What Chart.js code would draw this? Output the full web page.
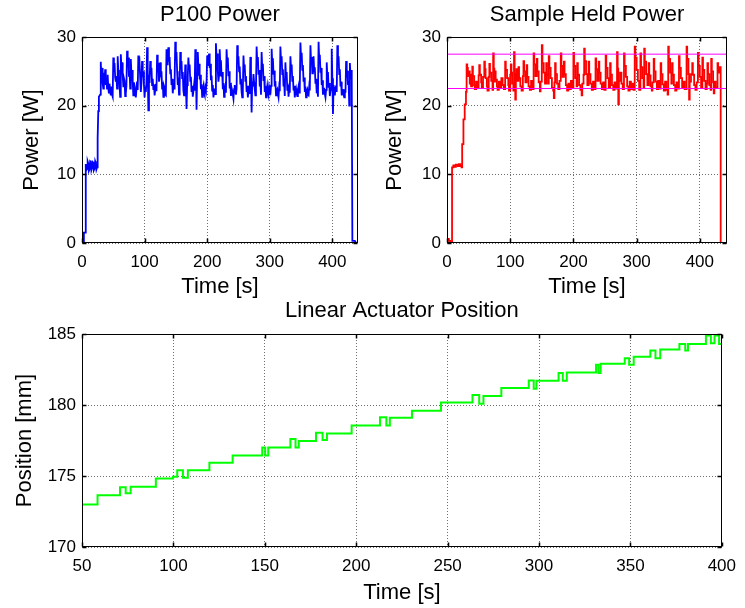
<!DOCTYPE html>
<html><head><meta charset="utf-8">
<script src="https://cdn.jsdelivr.net/npm/chart.js@4.4.1/dist/chart.umd.min.js"></script>
<style>
html,body{margin:0;padding:0;background:#fff;width:745px;height:608px;overflow:hidden;}
canvas{position:absolute;}
</style></head><body>
<canvas id="c1" width="380" height="305" style="left:0px;top:0px"></canvas>
<canvas id="c2" width="380" height="305" style="left:365px;top:0px"></canvas>
<canvas id="c3" width="745" height="318" style="left:0px;top:290px"></canvas>
<script>
// ---- tick labels ----
const powerXTicks = [0, 100, 200, 300, 400];
const powerYTicks = [0, 10, 20, 30];
const posXTicks = [50, 100, 150, 200, 250, 300, 350, 400];
const posYTicks = [170, 175, 180, 185];
// ---- limits of the sample-held band (W) ----
const shLimits = [22.5, 27.5];
// ---- P100 power: [time s, power W] ----
const p100 = [[0,0],[2,0],[3,1.5],[5,1.5],[6,11.5],[7,10.6],[8,10.8],[9,11.9],[10,11.6],[11,10.5],[12,10.7],[13,11.9],[14,11.8],[15,10.6],
[16,10.9],[17,11.8],[18,11.7],[19,10.6],[20,10.8],[21,11.9],[22,11.6],[23,10.7],[24,11],
[25,15.2],[26,19.2],[27,21.3],[29,21.6],[30,26.4],[31,24],[32,25.5],[33,23.2],[34,22.5],[35,24.8],[36,23.4],[37,25.3],[38,23],[39,24.1],[40,22.5],[41,24.5],[42,22.6],[43,21.8],
[44,23.2],[45,22.1],[46,21.5],[47,22.8],[48,21.6],[49,21.3],[50,27],[51,25],[52,26.2],[53,24.1],[54,23.5],[55,24.3],[56,22.5],[57,27.2],[58,25.2],[59,24.3],[60,23],[61,21.3],[62,27.5],
[63,25.5],[64,26.3],[65,24.5],[66,22.8],[67,24],[68,23.6],[69,21.4],[70,21.8],[71,22.9],[72,28],[73,26],[74,27],[75,24.2],[76,25],[77,22.5],[78,26.8],[79,24.5],[80,25.2],[81,23.5],
[82,21.5],[83,23.4],[84,22.8],[85,21.9],[86,21.2],[87,22.4],[88,23.5],[89,22.3],[90,27.3],[91,25.6],[92,26.1],[93,24],[94,22],[95,23.3],[96,26.5],[97,24.2],[98,25],[99,23],[100,21.2],[101,22.8],[102,22],[103,23.4],[104,28.5],
[105,25.5],[106,19.3],[107,24.5],[108,23.3],[109,26.5],[110,24.8],[111,25.5],[112,23],[113,23.9],[114,22.4],[115,23.1],[116,21.5],[117,22.3],[118,23.2],[119,22.1],[120,27.4],[121,25.5],[122,26.2],[123,23.5],
[124,24.2],[125,26.3],[126,24.2],[127,25],[128,22.5],[129,23.4],[130,21.3],[131,22.9],[132,22.6],[133,21.6],[134,21.5],[135,28.2],[136,26],[137,26.8],[138,28.5],[139,26.4],[140,27.1],[141,24.7],[142,25.3],[143,23],
[144,23.9],[145,21.8],[146,22.9],[147,22.5],[148,23.6],[149,29.3],[150,27],[151,27.8],[152,25],[153,23],[154,24.1],[155,21.6],[156,22.7],[157,27.8],[158,25.8],[159,26.5],[160,24],[161,24.9],[162,22.2],[163,21.5],[164,22.8],[165,26],
[166,23.5],[167,19.5],[168,23],[169,24.2],[170,27],[171,25.3],[172,26],[173,23.6],[174,24.2],[175,22],[176,22.9],[177,21.3],[178,22.1],[179,23],[180,22.2],[181,28.2],[182,25.5],[183,19.4],[184,24.5],
[185,27.8],[186,25.5],[187,26.1],[188,23.8],[189,24.5],[190,22.4],[191,23.1],[192,21.3],[193,22.2],[194,22.8],[195,21.8],[196,21.5],[197,22.7],[198,22.3],[199,23.2],[200,27.3],[201,25.8],[202,26.5],[203,27.6],[204,25.5],
[205,26.1],[206,23.7],[207,24.4],[208,22.2],[209,23],[210,21.2],[211,21.9],[212,22.5],[213,21.7],[214,29.1],[215,27],[216,27.6],[217,25],[218,23.5],[219,24.4],[220,28.2],[221,26],[222,26.6],[223,24.2],[224,24.9],[225,22.4],[226,23.3],[227,21.3],
[228,22.2],[229,22.8],[230,21.9],[231,28.2],[232,26.3],[233,27],[234,24.3],[235,25],[236,22.5],[237,23.3],[238,21.4],[239,22.6],[240,22.2],[241,21.6],[242,21],[243,22.4],[244,23],[245,22.1],[246,21.6],[247,22.5],[248,28.8],[249,26.5],[250,27.2],[251,25],
[252,25.7],[253,23.2],[254,23.9],[255,22],[256,21.2],[257,22.3],[258,27.3],[259,25.3],[260,26],[261,23.6],[262,24.3],[263,22],[264,22.9],[265,21.2],[266,22.1],[267,22.5],[268,21.7],[269,27.1],[270,25],[271,19],[272,23.5],
[273,22.8],[274,24.6],[275,23.4],[276,22.4],[277,21.5],[278,22.6],[279,28.6],[280,26.4],[281,27.1],[282,24.5],[283,25.2],[284,22.8],[285,23.5],[286,21.6],[287,27.8],[288,25.4],[289,26.1],[290,23.6],[291,24.3],[292,22],
[293,22.9],[294,21.2],[295,22],[296,22.8],[297,21.9],[298,21.5],[299,22.8],[300,22.4],[301,21.6],[302,22.9],[303,28.3],[304,26.2],[305,26.9],[306,24.5],[307,25.1],[308,22.8],[309,23.6],[310,21.5],[311,22.2],[312,22.4],[313,21.7],[314,21.2],[315,22.6],[316,22.1],[317,28.6],
[318,26.5],[319,27.2],[320,24.6],[321,25.3],[322,22.8],[323,23.5],[324,21.4],[325,26.3],[326,24.2],[327,24.9],[328,22.3],[329,23.1],[330,21.3],[331,22.4],[332,21.9],[333,27.2],[334,25.4],[335,26],[336,23.6],[337,24.3],[338,22.2],
[339,22.9],[340,21.2],[341,22.1],[342,22.5],[343,21.8],[344,21.4],[345,22.3],[346,22.8],[347,21.9],[348,22.6],[349,29.2],[350,27],[351,27.7],[352,25.2],[353,25.9],[354,23.5],[355,24.1],[356,22],[357,22.8],[358,21.2],[359,22],[360,22.3],[361,21.6],[362,21.5],[363,22.7],[364,22.2],
[365,28.8],[366,26.5],[367,27.1],[368,24.7],[369,25.3],[370,27.2],[371,25],[372,25.6],[373,23.2],[374,23.9],[375,21.8],[376,22.5],[377,21.3],[378,29.3],[379,26.8],[380,27.4],[381,24.8],[382,25.5],[383,23],[384,23.7],
[385,21.6],[386,22.3],[387,22.4],[388,21.7],[389,21.2],[390,22.3],[391,26.3],[392,24.2],[393,24.9],[394,22.6],[395,23.3],[396,21.4],[397,22.1],[398,22.5],[399,28.3],[400,24],[401,18.8],[402,23],
[403,22.2],[404,21.5],[405,22.6],[406,22.8],[407,22],[408,28.8],[409,26.5],[410,27.2],[411,24.6],[412,25.3],[413,22.8],[414,23.5],[415,21.5],[416,22.3],[417,22.4],[418,21.6],[419,21.2],[420,22.4],[421,21.9],[422,26.5],[423,24.5],[424,25.1],[425,23],
[426,23.6],[427,20],[428,26.2],[429,24.5],[430,25.2],[431,23.8],[432,0.3],[436,0.3],[438,0]];
// ---- Sample-held power: [time s, power W] (held from that time) ----
const sampleHeld = [[0,0.6],[3,0.3],[5,0],[8,11.0],[10,11.3],[12,11.1],[14,11.4],[17,11.2],[19,11.5],[21,11.2],[23,11.0],[24,14.4],
[26,18],[28,20.2],[30,22],[31,26],[32,25.5],[33,24.3],[35,25],[36,23.2],[37,24.5],[38,22.8],[40,25.7],[41,24.3],[43,23],[44,22.4],
[46,23.5],[48,22.6],[50,24.4],[51,25.9],[52,24.5],[54,23.4],[55,22.6],[57,24.2],[59,26.4],[60,25.3],[61,24],[63,22.8],[64,22.2],
[66,24.2],[67,26.1],[68,24.8],[70,23.6],[72,22.3],[73,27.6],[74,25.4],[75,23.5],[76,25],[77,23.8],[79,22.8],[80,22.3],[82,23.5],
[84,22.6],[86,24],[88,23],[90,22.4],[92,26.4],[93,25.2],[95,24],[97,23],[98,22.2],[100,24.5],[101,26],[102,24.8],[103,23.2],[105,22.2],
[106,27.8],[107,24.6],[108,20.9],[109,23.8],[110,25.3],[111,23.6],[113,25.6],[114,24],[116,22.8],[118,22.2],[120,24.3],[121,26.5],
[122,25],[124,23.4],[126,25.9],[127,24.2],[129,22.8],[131,22.3],[133,23.6],[135,22.4],[137,27.6],[138,26],[140,24.3],[142,26.8],
[143,25],[145,23.4],[147,22.1],[148,23.5],[150,28.8],[151,26.2],[153,24.8],[155,23.2],[157,26.2],[158,24.5],[160,23.2],[161,27.2],
[162,25.5],[164,24],[166,22.6],[168,22.2],[169,21.1],[170,23.4],[171,26.2],[172,24.6],[174,23.2],[176,22.4],[178,23.6],[180,27.6],
[181,25.8],[183,24.2],[185,26.4],[186,24.6],[188,23],[190,22.2],[192,23.2],[194,22.4],[196,23.6],[198,22.6],[200,27.7],[201,25.8],
[203,24],[205,22.8],[206,26.2],[207,24.5],[209,23],[211,22.3],[213,21.5],[214,23.2],[216,24.5],[217,28.3],[218,26.5],[220,24.6],
[222,23],[224,26.4],[225,24.6],[227,23.2],[229,22.3],[231,23.5],[233,22.4],[235,26.9],[236,25.3],[238,23.6],[240,26.4],[241,24.8],
[243,23.2],[245,22.4],[247,23.4],[249,22.3],[251,27.3],[252,25.5],[254,24],[256,22.6],[258,26.2],[259,24.5],[261,23],[263,22.3],
[265,23.4],[267,22.5],[269,27.8],[270,25.4],[271,20.2],[272,23.6],[274,24.8],[276,23.2],[278,22.4],[280,27.6],[281,25.8],[283,24.2],
[285,22.8],[287,22.2],[289,23.5],[291,22.4],[293,23.2],[295,22.3],[297,28.6],[298,27],[300,25.2],[302,23.6],[304,22.3],[306,27.6],
[307,25.6],[309,24],[311,22.6],[312,28.3],[313,26.4],[315,24.6],[317,23],[319,26.2],[320,24.4],[322,22.8],[324,22.2],[325,23.4],
[327,26.8],[328,25],[330,23.5],[332,22.4],[334,23.6],[336,22.5],[338,26.2],[339,24.6],[341,23.1],[343,22.2],[345,23.5],[347,22.3],
[349,21.6],[350,28.6],[351,26.8],[353,24.8],[355,23.2],[356,26.2],[357,24.5],[359,23],[361,22.2],[363,23.4],[365,22.5],[367,27.2],
[368,25.5],[370,24],[372,22.6],[374,23.5],[376,22.4],[379,28.6],[380,26.8],[382,24.6],[383,20.9],[384,23.5],[386,24.6],[388,26.2],
[389,24.5],[391,23],[393,22.3],[395,23.4],[397,27.7],[398,25.8],[400,24.2],[402,22.6],[404,27],[405,25.2],[407,23.6],[409,22.4],
[411,23.2],[412,26.2],[413,24.6],[415,23],[417,22.3],[418,26.8],[419,25],[421,23.4],[422,21.8],[423,23.5],[425,22.6],[428,26.2],
[429,24.8],[431,25.6],[433,0],[440,0]];
// ---- Linear actuator position: [time s, position mm] (held from that time) ----
const position = [[50,173.0],[58.5,173.65],[70.8,174.2],[73.9,173.78],[76.6,174.25],[90.4,174.83],[99.8,174.95],[102.1,175.4],
[105.2,174.87],[107.9,175.4],[119.7,175.93],[132.4,176.45],[148.6,177.0],[150.2,176.45],[151.9,177.0],[164,177.6],[166.8,177.0],
[168.6,177.47],[178,178.05],[181.6,177.53],[184,178.0],[197.5,178.55],[213,179.14],[216.5,178.55],[218.4,179.1],[230.5,179.6],
[246.4,180.17],[263.6,180.7],[267.3,180.08],[269.6,180.64],[279.4,181.19],[294.4,181.72],[297.1,181.15],[298.6,181.7],[310.7,182.25],
[313,181.7],[315.2,182.29],[331.2,182.83],[332.5,182.25],[333.7,182.9],[346.9,183.3],[349.3,182.83],[351.8,183.4],[360.9,183.84],
[363.7,183.3],[366.3,183.9],[376.8,184.3],[380,183.84],[381.5,184.3],[391.3,184.9],[394,184.35],[396,184.9],[398.5,184.3],[400,184.3]];

const FONT = "'Liberation Sans', Arial, Helvetica, sans-serif";
const tickFont = {family: FONT, size: 17, lineHeight: 1.2};
const labelFont = {family: FONT, size: 22, lineHeight: 1};

const boxPlugin = {
  id: 'matlabBox',
  afterDraw(chart) {
    const {ctx, chartArea: a, scales} = chart;
    const L = Math.round(a.left) + 0.5, R = Math.round(a.right) - 0.5;
    const T = Math.round(a.top) + 0.5, B = Math.round(a.bottom) - 0.5;
    ctx.save();
    ctx.strokeStyle = '#000';
    ctx.lineWidth = 1;
    ctx.setLineDash([]);
    ctx.strokeRect(L, T, R - L, B - T);
    ctx.lineWidth = 1.5;
    ctx.beginPath();
    scales.x.ticks.forEach(t => {
      const p = Math.round(scales.x.getPixelForValue(t.value)) + 0.5;
      ctx.moveTo(p, B); ctx.lineTo(p, B - 4);
      ctx.moveTo(p, T); ctx.lineTo(p, T + 4);
    });
    scales.y.ticks.forEach(t => {
      const p = Math.round(scales.y.getPixelForValue(t.value)) + 0.5;
      ctx.moveTo(L, p); ctx.lineTo(L + 4, p);
      ctx.moveTo(R, p); ctx.lineTo(R - 4, p);
    });
    ctx.stroke();
    ctx.restore();
  }
};

function makeChart(canvas, cfg) {
  const setTicks = arr => scale => { scale.ticks = arr.map(v => ({value: v})); };
  return new Chart(canvas, {
    type: 'line',
    data: {datasets: cfg.datasets},
    options: {
      responsive: false, animation: false, devicePixelRatio: 1,
      layout: {padding: {left: 0, right: cfg.padRight, top: 0, bottom: 0}},
      plugins: {legend: {display: false}, tooltip: {enabled: false}, title: {display: false}},
      scales: {
        x: {
          type: 'linear', position: 'bottom', min: cfg.xMin, max: cfg.xMax,
          afterBuildTicks: setTicks(cfg.xTicks),
          afterFit(s) { s.height = cfg.xAxisH; },
          ticks: {padding: 9, color: '#000', font: tickFont, maxRotation: 0, autoSkip: false},
          grid: {color: '#6e6e6e', lineWidth: 1, drawTicks: false},
          border: {display: false, dash: [1, 2]},
          title: {display: true, text: 'Time [s]', color: '#000', font: labelFont, padding: {top: 0, bottom: cfg.xTitlePad}}
        },
        y: {
          type: 'linear', position: 'left', min: cfg.yMin, max: cfg.yMax,
          afterBuildTicks: setTicks(cfg.yTicks),
          afterFit(s) { s.width = 82; },
          ticks: {padding: 6, color: '#000', font: tickFont, autoSkip: false},
          grid: {color: '#6e6e6e', lineWidth: 1, drawTicks: false},
          border: {display: false, dash: [1, 2]},
          title: {display: true, text: cfg.yLabel, color: '#000', font: labelFont, padding: {top: cfg.yTitlePad, bottom: 0}}
        },
        xTitle: {
          type: 'linear', position: 'top', min: cfg.xMin, max: cfg.xMax,
          afterFit(s) { s.height = cfg.titleH; },
          ticks: {display: false}, grid: {display: false}, border: {display: false},
          title: {display: true, text: cfg.title, color: '#000', font: labelFont, padding: {top: cfg.titlePad, bottom: 0}}
        }
      }
    },
    plugins: [boxPlugin]
  });
}

const pts = arr => arr.map(([x, y]) => ({x, y}));
const base = {xAxisID: 'x', yAxisID: 'y', pointRadius: 0, tension: 0, fill: false};

makeChart(document.getElementById('c1'), {
  title: 'P100 Power', yLabel: 'Power [W]',
  xMin: 0, xMax: 441, yMin: 0, yMax: 30, xTicks: powerXTicks, yTicks: powerYTicks,
  padRight: 22, xAxisH: 62, titleH: 37, titlePad: 4, xTitlePad: 7, yTitlePad: 21,
  datasets: [Object.assign({}, base, {data: pts(p100), borderColor: '#0000ff', borderWidth: 1.8})]
});

makeChart(document.getElementById('c2'), {
  title: 'Sample Held Power', yLabel: 'Power [W]',
  xMin: 0, xMax: 443, yMin: 0, yMax: 30, xTicks: powerXTicks, yTicks: powerYTicks,
  padRight: 18, xAxisH: 62, titleH: 37, titlePad: 4, xTitlePad: 7, yTitlePad: 19,
  datasets: [
    Object.assign({}, base, {data: [{x: 0, y: shLimits[1]}, {x: 443, y: shLimits[1]}], borderColor: '#ff00ff', borderWidth: 1}),
    Object.assign({}, base, {data: [{x: 0, y: shLimits[0]}, {x: 443, y: shLimits[0]}], borderColor: '#ff00ff', borderWidth: 1}),
    Object.assign({}, base, {data: pts(sampleHeld), borderColor: '#ff0000', borderWidth: 1.8, stepped: true})
  ]
});

makeChart(document.getElementById('c3'), {
  title: 'Linear Actuator Position', yLabel: 'Position [mm]',
  xMin: 50, xMax: 400, yMin: 170, yMax: 185, xTicks: posXTicks, yTicks: posYTicks,
  padRight: 19, xAxisH: 61, titleH: 44, titlePad: 10, xTitlePad: 4, yTitlePad: 14,
  datasets: [Object.assign({}, base, {data: pts(position), borderColor: '#00ff00', borderWidth: 2, stepped: true})]
});
</script></body></html>
